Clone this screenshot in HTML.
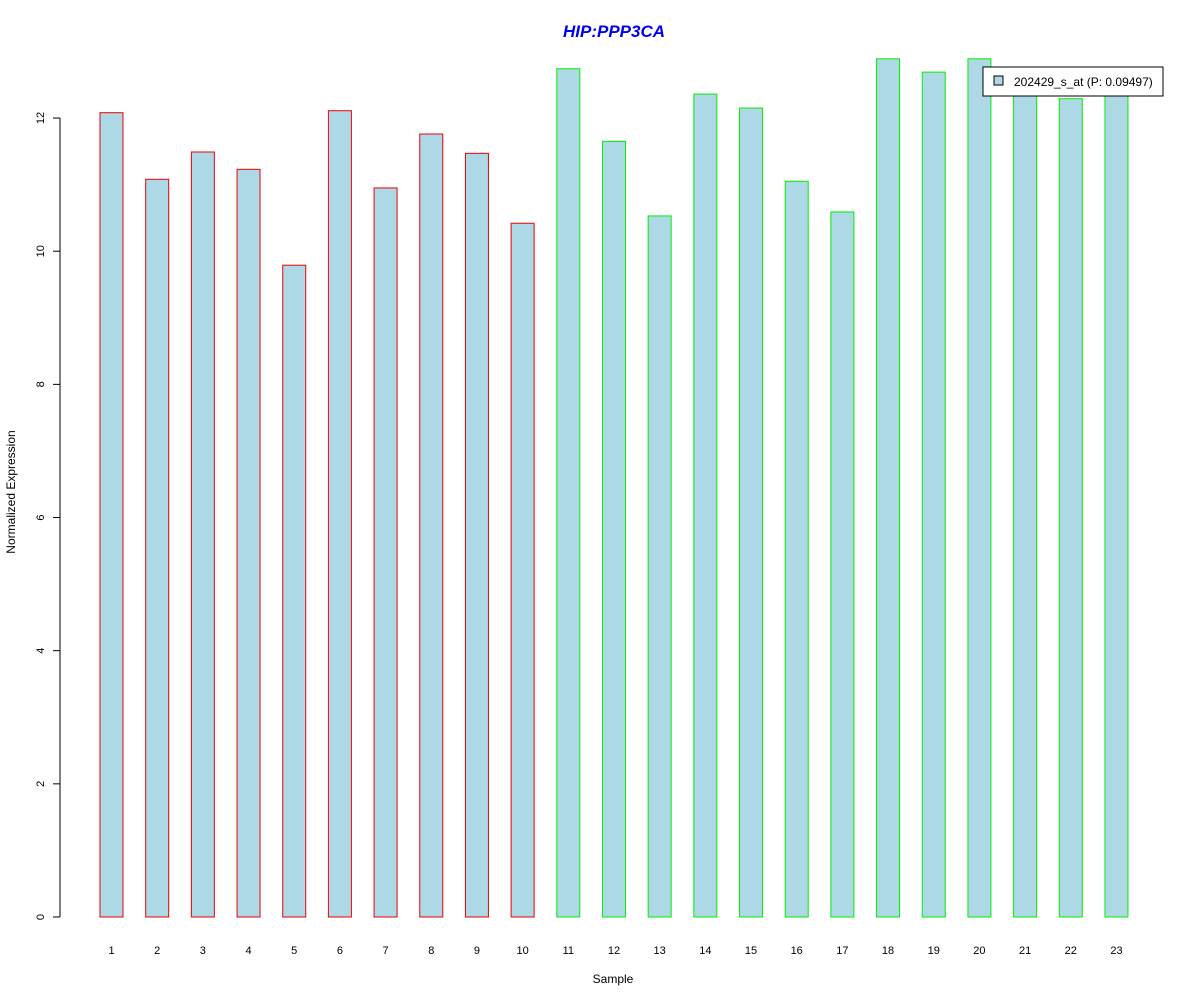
<!DOCTYPE html>
<html><head><meta charset="utf-8"><style>
body{margin:0;background:#fff;}
svg{display:block;font-family:"Liberation Sans",Arial,sans-serif;}
</style></head><body>
<svg id="chart" width="1200" height="1000" xmlns="http://www.w3.org/2000/svg">
<rect width="1200" height="1000" fill="#fff"/>
<text x="614" y="37" text-anchor="middle" font-size="17" font-weight="bold" font-style="italic" fill="#0000ee">HIP:PPP3CA</text>
<text x="613" y="983" text-anchor="middle" font-size="12">Sample</text>
<text transform="translate(15,492) rotate(-90)" text-anchor="middle" font-size="12">Normalized Expression</text>
<g id="axis"></g>
<g id="bars"></g>
<g>
<rect x="983" y="67" width="180" height="29" fill="#fff" stroke="#000"/>
<rect x="994" y="76" width="9" height="9" fill="#add8e6" stroke="#000"/>
<text x="1014" y="86" font-size="12">202429_s_at (P: 0.09497)</text>
</g>
</svg>
<script>
const categories=["1","2","3","4","5","6","7","8","9","10","11","12","13","14","15","16","17","18","19","20","21","22","23"];
const values=[12.08,11.08,11.49,11.23,9.79,12.11,10.95,11.76,11.47,10.42,12.74,11.65,10.53,12.36,12.15,11.05,10.59,12.89,12.69,12.89,12.45,12.29,12.45];
const groups=[0,0,0,0,0,0,0,0,0,0,1,1,1,1,1,1,1,1,1,1,1,1,1];
const yTicks=[0,2,4,6,8,10,12];
const NS="http://www.w3.org/2000/svg";
function y(v){return 917-v*66.58;}
function x(i){return 111.5+i*45.68;}
function mk(t,a,p){const e=document.createElementNS(NS,t);for(const k in a)e.setAttribute(k,a[k]);p.appendChild(e);return e;}
const ax=document.getElementById('axis'),bg=document.getElementById('bars');
mk('line',{x1:60,x2:60,y1:y(0),y2:y(12),stroke:'#000'},ax);
yTicks.forEach(t=>{
 mk('line',{x1:53,x2:60,y1:y(t),y2:y(t),stroke:'#000'},ax);
 const tx=mk('text',{transform:`translate(44,${y(t)}) rotate(-90)`,'text-anchor':'middle','font-size':11},ax);
 
 
 tx.textContent=t;
});
values.forEach((v,i)=>{
 const r=mk('rect',{x:x(i)-11.5,y:y(v),width:23,height:y(0)-y(v),fill:'#add8e6',stroke:groups[i]?'#00ee00':'#ee0000'},bg);
 
 
 const t=mk('text',{x:x(i),y:954,'text-anchor':'middle','font-size':11},bg);
 
 
 t.textContent=categories[i];
});
</script>
</body></html>
